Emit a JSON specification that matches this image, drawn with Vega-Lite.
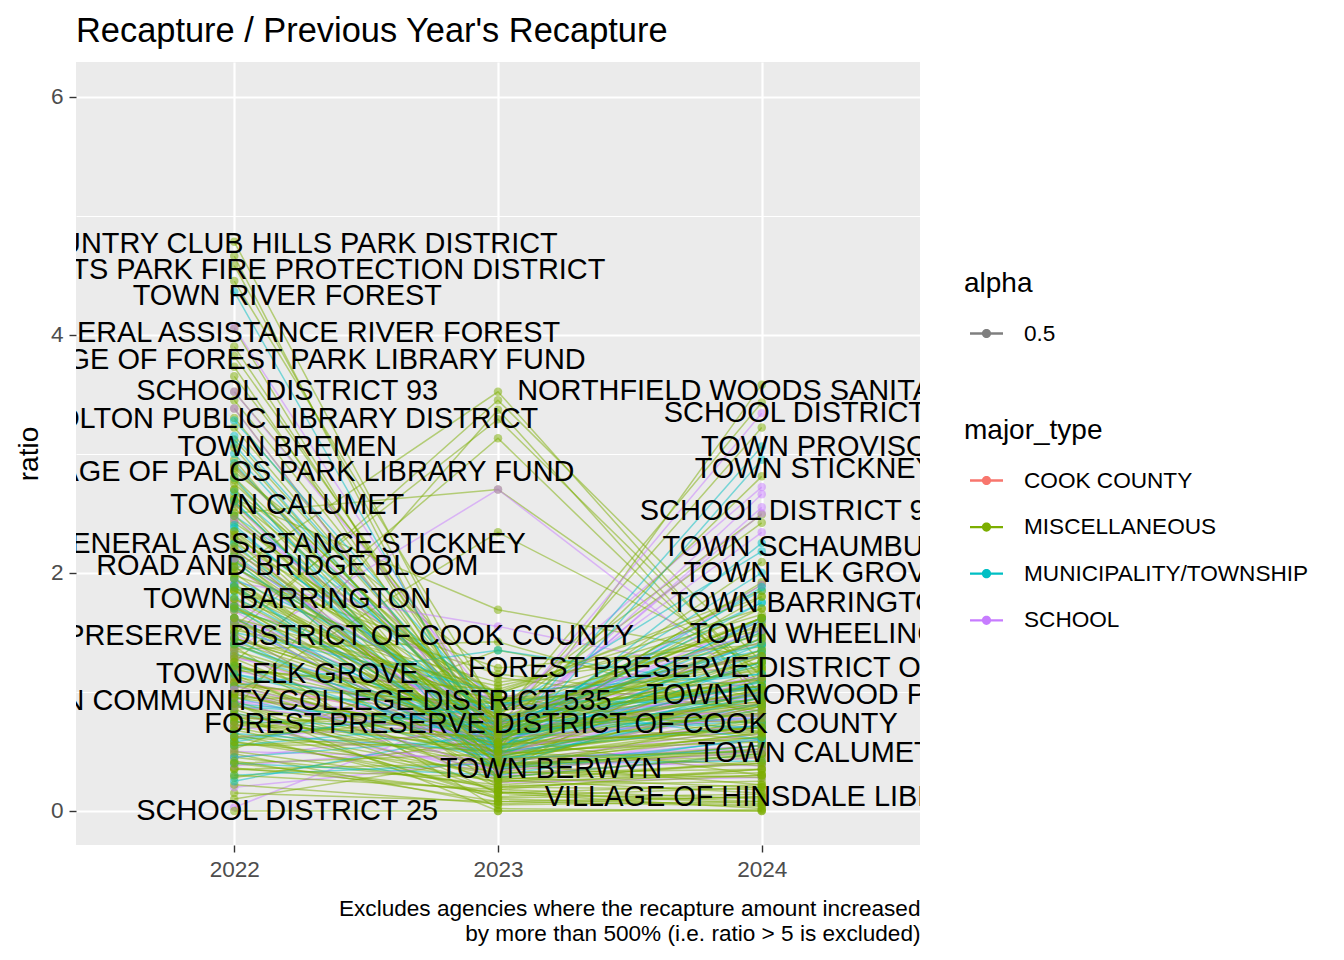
{
  "$schema": "https://vega.github.io/schema/vega-lite/v6.json",
  "autosize": {"type": "none"},
  "width": 844,
  "height": 783,
  "padding": {"left": 76, "top": 62, "right": 424, "bottom": 115},
  "background": "white",
  "title": {
    "text": "Recapture / Previous Year's Recapture",
    "anchor": "start",
    "frame": "group",
    "font": "Liberation Sans",
    "fontSize": 34.4,
    "fontWeight": "normal",
    "color": "#000000",
    "offset": 13
  },
  "datasets": {
    "agencies": [
      {"agency": "ACORN PUBLIC LIBRARY DISTRICT", "major_type": "MISCELLANEOUS", "2022": 0.65, "2023": 0.11, "2024": 0.14},
      {"agency": "ALSIP PARK DISTRICT", "major_type": "MISCELLANEOUS", "2022": 0.36, "2023": 0.16, "2024": 0.06},
      {"agency": "ARLINGTON HEIGHTS PARK DISTRICT", "major_type": "MISCELLANEOUS", "2022": 1.12, "2023": 0.85, "2024": 1.05},
      {"agency": "BARRINGTON AREA LIBRARY DISTRICT", "major_type": "MISCELLANEOUS", "2022": 1.9, "2023": 0.78, "2024": 1.32},
      {"agency": "BARTLETT PARK DISTRICT", "major_type": "MISCELLANEOUS", "2022": 2.45, "2023": 0.62, "2024": 0.9},
      {"agency": "BEDFORD PARK LIBRARY", "major_type": "MISCELLANEOUS", "2022": 3.52, "2023": 0.9, "2024": 1.18},
      {"agency": "BELLWOOD PARK DISTRICT", "major_type": "MISCELLANEOUS", "2022": 0.68, "2023": 0.95, "2024": 1.3},
      {"agency": "BERWYN PARK DISTRICT", "major_type": "MISCELLANEOUS", "2022": 1.85, "2023": 0.44, "2024": 0.72},
      {"agency": "BLOOM TOWNSHIP SANITARY DISTRICT", "major_type": "MISCELLANEOUS", "2022": 2.12, "2023": 0.6, "2024": 1.25},
      {"agency": "BLUE ISLAND PARK DISTRICT", "major_type": "MISCELLANEOUS", "2022": 3.9, "2023": 0.58, "2024": 0.66},
      {"agency": "BRIDGEVIEW PARK DISTRICT", "major_type": "MISCELLANEOUS", "2022": 1.36, "2023": 1.42, "2024": 0.8},
      {"agency": "BROOKFIELD LIBRARY", "major_type": "MISCELLANEOUS", "2022": 0.92, "2023": 0.31, "2024": 0.45},
      {"agency": "BURBANK PARK DISTRICT", "major_type": "MISCELLANEOUS", "2022": 2.02, "2023": 3.52, "2024": 1.05},
      {"agency": "CALUMET CITY PARK DISTRICT", "major_type": "MISCELLANEOUS", "2022": 1.58, "2023": 0.72, "2024": 1.62},
      {"agency": "CENTRAL STICKNEY FIRE PROTECTION DISTRICT", "major_type": "MISCELLANEOUS", "2022": 1.15, "2023": 0.15, "2024": 0.02},
      {"agency": "CHICAGO RIDGE PARK DISTRICT", "major_type": "MISCELLANEOUS", "2022": 0.45, "2023": 0.22, "2024": 0.35},
      {"agency": "CICERO PUBLIC LIBRARY", "major_type": "MISCELLANEOUS", "2022": 2.7, "2023": 0.9, "2024": 0.74},
      {"agency": "CITY OF BLUE ISLAND", "major_type": "MUNICIPALITY/TOWNSHIP", "2022": 0.95, "2023": 0.48, "2024": 0.85},
      {"agency": "CITY OF DES PLAINES", "major_type": "MUNICIPALITY/TOWNSHIP", "2022": 1.32, "2023": 0.65, "2024": 1.85},
      {"agency": "CITY OF EVANSTON", "major_type": "MUNICIPALITY/TOWNSHIP", "2022": 0.75, "2023": 0.7, "2024": 1.22},
      {"agency": "CITY OF HARVEY", "major_type": "MUNICIPALITY/TOWNSHIP", "2022": 2.15, "2023": 0.6, "2024": 1.25},
      {"agency": "CITY OF PARK RIDGE", "major_type": "MUNICIPALITY/TOWNSHIP", "2022": 2.48, "2023": 0.95, "2024": 0.88},
      {"agency": "COOK COUNTY", "major_type": "COOK COUNTY", "2022": 1.08, "2023": 0.66, "2024": 0.92},
      {"agency": "COUNTRY CLUB HILLS PARK DISTRICT", "major_type": "MISCELLANEOUS", "2022": 4.78, "2023": 0.62, "2024": 0.95},
      {"agency": "DES PLAINES PARK DISTRICT", "major_type": "MISCELLANEOUS", "2022": 1.05, "2023": 0.55, "2024": 1.45},
      {"agency": "DOLTON PUBLIC LIBRARY DISTRICT", "major_type": "MISCELLANEOUS", "2022": 3.3, "2023": 0.66, "2024": 0.9},
      {"agency": "ELK GROVE PARK DISTRICT", "major_type": "MISCELLANEOUS", "2022": 3.73, "2023": 0.47, "2024": 1.15},
      {"agency": "ELK GROVE RURAL FIRE PROTECTION DISTRICT", "major_type": "MISCELLANEOUS", "2022": 4.66, "2023": 0.35, "2024": 0.55},
      {"agency": "EVERGREEN PARK LIBRARY FUND", "major_type": "MISCELLANEOUS", "2022": 0.78, "2023": 0.12, "2024": 0.2},
      {"agency": "FOREST PRESERVE DISTRICT OF COOK COUNTY", "major_type": "MISCELLANEOUS", "2022": 1.45, "2023": 0.73, "2024": 1.2},
      {"agency": "FOREST VIEW FIRE PROTECTION DISTRICT", "major_type": "MISCELLANEOUS", "2022": 0.15, "2023": 0.08, "2024": 0.04},
      {"agency": "FRANKLIN PARK PARK DISTRICT", "major_type": "MISCELLANEOUS", "2022": 2.25, "2023": 0.98, "2024": 1.85},
      {"agency": "GARDEN HOMES SANITARY DISTRICT", "major_type": "MISCELLANEOUS", "2022": 1.38, "2023": 0.02, "2024": 0.0},
      {"agency": "GENERAL ASSISTANCE BLOOM", "major_type": "MISCELLANEOUS", "2022": 1.45, "2023": 0.86, "2024": 2.49},
      {"agency": "GENERAL ASSISTANCE CICERO", "major_type": "MISCELLANEOUS", "2022": 2.5, "2023": 2.7, "2024": 1.15},
      {"agency": "GENERAL ASSISTANCE PROVISO", "major_type": "MISCELLANEOUS", "2022": 0.75, "2023": 0.53, "2024": 0.72},
      {"agency": "GENERAL ASSISTANCE RIVER FOREST", "major_type": "MISCELLANEOUS", "2022": 4.05, "2023": 0.41, "2024": 0.88},
      {"agency": "GENERAL ASSISTANCE STICKNEY", "major_type": "MISCELLANEOUS", "2022": 2.28, "2023": 0.38, "2024": 1.3},
      {"agency": "GENERAL ASSISTANCE THORNTON", "major_type": "MISCELLANEOUS", "2022": 3.12, "2023": 0.67, "2024": 1.0},
      {"agency": "GLENCOE PARK DISTRICT", "major_type": "MISCELLANEOUS", "2022": 0.78, "2023": 0.7, "2024": 3.22},
      {"agency": "GLENVIEW PARK DISTRICT", "major_type": "MISCELLANEOUS", "2022": 1.48, "2023": 3.45, "2024": 1.25},
      {"agency": "GRANDE PRAIRIE PUBLIC LIBRARY DISTRICT", "major_type": "MISCELLANEOUS", "2022": 3.38, "2023": 0.5, "2024": 0.58},
      {"agency": "HANOVER PARK PARK DISTRICT", "major_type": "MISCELLANEOUS", "2022": 1.62, "2023": 0.34, "2024": 0.78},
      {"agency": "HARWOOD HEIGHTS LIBRARY", "major_type": "MISCELLANEOUS", "2022": 0.55, "2023": 0.65, "2024": 0.58},
      {"agency": "HAZEL CREST PARK DISTRICT", "major_type": "MISCELLANEOUS", "2022": 2.95, "2023": 0.36, "2024": 1.02},
      {"agency": "HIGH SCHOOL DISTRICT 200", "major_type": "SCHOOL", "2022": 1.28, "2023": 0.95, "2024": 1.3},
      {"agency": "HIGH SCHOOL DISTRICT 207", "major_type": "SCHOOL", "2022": 2.05, "2023": 0.58, "2024": 0.8},
      {"agency": "HIGH SCHOOL DISTRICT 211", "major_type": "SCHOOL", "2022": 0.98, "2023": 0.68, "2024": 1.6},
      {"agency": "HIGH SCHOOL DISTRICT 218", "major_type": "SCHOOL", "2022": 1.68, "2023": 0.4, "2024": 0.7},
      {"agency": "HIGH SCHOOL DISTRICT 227", "major_type": "SCHOOL", "2022": 0.45, "2023": 0.7, "2024": 0.85},
      {"agency": "HIGH SCHOOL DISTRICT 233", "major_type": "SCHOOL", "2022": 2.32, "2023": 0.24, "2024": 0.28},
      {"agency": "HOFFMAN ESTATES PARK DISTRICT", "major_type": "MISCELLANEOUS", "2022": 1.22, "2023": 0.81, "2024": 2.42},
      {"agency": "HOMEWOOD-FLOSSMOOR PARK DISTRICT", "major_type": "MISCELLANEOUS", "2022": 3.65, "2023": 0.74, "2024": 0.6},
      {"agency": "INDIAN PRAIRIE LIBRARY DISTRICT", "major_type": "MISCELLANEOUS", "2022": 1.02, "2023": 0.6, "2024": 1.9},
      {"agency": "LA GRANGE PARK DISTRICT", "major_type": "MISCELLANEOUS", "2022": 0.35, "2023": 0.4, "2024": 0.22},
      {"agency": "LEMONT FIRE PROTECTION DISTRICT", "major_type": "MISCELLANEOUS", "2022": 1.98, "2023": 1.2, "2024": 1.4},
      {"agency": "LEMONT PARK DISTRICT", "major_type": "MISCELLANEOUS", "2022": 1.68, "2023": 1.08, "2024": 1.38},
      {"agency": "LINCOLNWOOD LIBRARY", "major_type": "MISCELLANEOUS", "2022": 2.55, "2023": 0.26, "2024": 0.15},
      {"agency": "LYONS PUBLIC LIBRARY", "major_type": "MISCELLANEOUS", "2022": 0.98, "2023": 2.34, "2024": 1.2},
      {"agency": "MATTESON PUBLIC LIBRARY", "major_type": "MISCELLANEOUS", "2022": 1.95, "2023": 0.52, "2024": 0.95},
      {"agency": "MAYWOOD PARK DISTRICT", "major_type": "MISCELLANEOUS", "2022": 3.45, "2023": 0.69, "2024": 1.5},
      {"agency": "MELROSE PARK PUBLIC LIBRARY", "major_type": "MISCELLANEOUS", "2022": 1.85, "2023": 1.15, "2024": 0.9},
      {"agency": "METROPOLITAN WATER RECLAMATION DISTRICT", "major_type": "MISCELLANEOUS", "2022": 1.2, "2023": 0.95, "2024": 1.02},
      {"agency": "MIDLOTHIAN PARK DISTRICT", "major_type": "MISCELLANEOUS", "2022": 0.62, "2023": 0.18, "2024": 0.1},
      {"agency": "MORAINE VALLEY COMMUNITY COLLEGE DISTRICT 524", "major_type": "SCHOOL", "2022": 1.1, "2023": 0.64, "2024": 2.5},
      {"agency": "MORTON GROVE PARK DISTRICT", "major_type": "MISCELLANEOUS", "2022": 1.32, "2023": 0.58, "2024": 2.09},
      {"agency": "MOUNT PROSPECT PARK DISTRICT", "major_type": "MISCELLANEOUS", "2022": 2.85, "2023": 1.12, "2024": 0.84},
      {"agency": "NILES PARK DISTRICT", "major_type": "MISCELLANEOUS", "2022": 0.85, "2023": 3.37, "2024": 0.92},
      {"agency": "NORRIDGE PARK DISTRICT", "major_type": "MISCELLANEOUS", "2022": 1.75, "2023": 0.33, "2024": 0.52},
      {"agency": "NORTH MAINE FIRE PROTECTION DISTRICT", "major_type": "MISCELLANEOUS", "2022": 2.42, "2023": 0.93, "2024": 1.1},
      {"agency": "NORTH SHORE MOSQUITO ABATEMENT DISTRICT", "major_type": "MISCELLANEOUS", "2022": 2.18, "2023": 0.8, "2024": 1.05},
      {"agency": "NORTH SUBURBAN LIBRARY DISTRICT", "major_type": "MISCELLANEOUS", "2022": 2.65, "2023": 0.27, "2024": 0.32},
      {"agency": "NORTHBROOK PARK DISTRICT", "major_type": "MISCELLANEOUS", "2022": 2.35, "2023": 0.77, "2024": 3.43},
      {"agency": "NORTHFIELD WOODS SANITARY DISTRICT", "major_type": "MISCELLANEOUS", "2022": 1.2, "2023": 0.5, "2024": 3.58},
      {"agency": "NORTHWEST MOSQUITO ABATEMENT DISTRICT", "major_type": "MISCELLANEOUS", "2022": 0.88, "2023": 0.57, "2024": 1.92},
      {"agency": "OAK FOREST PARK DISTRICT", "major_type": "MISCELLANEOUS", "2022": 2.75, "2023": 0.7, "2024": 0.82},
      {"agency": "OAK LAWN PARK DISTRICT", "major_type": "MISCELLANEOUS", "2022": 1.02, "2023": 0.46, "2024": 0.75},
      {"agency": "OAKTON COMMUNITY COLLEGE DISTRICT 535", "major_type": "SCHOOL", "2022": 0.92, "2023": 0.8, "2024": 0.95},
      {"agency": "ORLAND FIRE PROTECTION DISTRICT", "major_type": "MISCELLANEOUS", "2022": 3.22, "2023": 0.63, "2024": 1.35},
      {"agency": "PALATINE PARK DISTRICT", "major_type": "MISCELLANEOUS", "2022": 0.72, "2023": 0.88, "2024": 1.02},
      {"agency": "PALOS FIRE PROTECTION DISTRICT", "major_type": "MISCELLANEOUS", "2022": 0.4, "2023": 0.48, "2024": 1.0},
      {"agency": "PARK RIDGE PARK DISTRICT", "major_type": "MISCELLANEOUS", "2022": 1.55, "2023": 3.29, "2024": 1.12},
      {"agency": "PROSPECT HEIGHTS PARK DISTRICT", "major_type": "MISCELLANEOUS", "2022": 2.15, "2023": 0.29, "2024": 0.4},
      {"agency": "RIVER GROVE PARK DISTRICT", "major_type": "MISCELLANEOUS", "2022": 0.7, "2023": 0.3, "2024": 1.55},
      {"agency": "RIVER TRAILS PARK DISTRICT", "major_type": "MISCELLANEOUS", "2022": 0.48, "2023": 0.05, "2024": 0.08},
      {"agency": "ROAD AND BRIDGE BLOOM", "major_type": "MISCELLANEOUS", "2022": 2.1, "2023": 0.5, "2024": 0.7},
      {"agency": "ROAD AND BRIDGE PALATINE", "major_type": "MISCELLANEOUS", "2022": 2.78, "2023": 0.43, "2024": 0.88},
      {"agency": "ROAD AND BRIDGE RICH", "major_type": "MISCELLANEOUS", "2022": 0.52, "2023": 1.35, "2024": 0.95},
      {"agency": "ROAD AND BRIDGE THORNTON", "major_type": "MISCELLANEOUS", "2022": 1.08, "2023": 0.74, "2024": 1.62},
      {"agency": "ROAD AND BRIDGE WORTH", "major_type": "MISCELLANEOUS", "2022": 1.72, "2023": 0.21, "2024": 0.25},
      {"agency": "ROBERTS PARK FIRE PROTECTION DISTRICT", "major_type": "MISCELLANEOUS", "2022": 4.58, "2023": 0.55, "2024": 1.1},
      {"agency": "ROLLING MEADOWS PARK DISTRICT", "major_type": "MISCELLANEOUS", "2022": 1.42, "2023": 0.71, "2024": 1.7},
      {"agency": "SCHAUMBURG PARK DISTRICT", "major_type": "MISCELLANEOUS", "2022": 2.62, "2023": 1.69, "2024": 1.28},
      {"agency": "SCHOOL DISTRICT 15", "major_type": "SCHOOL", "2022": 1.18, "2023": 0.72, "2024": 1.42},
      {"agency": "SCHOOL DISTRICT 21", "major_type": "SCHOOL", "2022": 2.2, "2023": 0.5, "2024": 0.9},
      {"agency": "SCHOOL DISTRICT 25", "major_type": "SCHOOL", "2022": 0.03, "2023": 0.9, "2024": 0.8},
      {"agency": "SCHOOL DISTRICT 34", "major_type": "SCHOOL", "2022": 1.6, "2023": 0.7, "2024": 3.34},
      {"agency": "SCHOOL DISTRICT 54", "major_type": "SCHOOL", "2022": 0.72, "2023": 0.35, "2024": 0.65},
      {"agency": "SCHOOL DISTRICT 57", "major_type": "SCHOOL", "2022": 1.62, "2023": 0.82, "2024": 2.72},
      {"agency": "SCHOOL DISTRICT 59", "major_type": "SCHOOL", "2022": 4.06, "2023": 0.66, "2024": 1.05},
      {"agency": "SCHOOL DISTRICT 62", "major_type": "SCHOOL", "2022": 0.5, "2023": 0.44, "2024": 0.52},
      {"agency": "SCHOOL DISTRICT 63", "major_type": "SCHOOL", "2022": 1.92, "2023": 1.55, "2024": 1.1},
      {"agency": "SCHOOL DISTRICT 64", "major_type": "SCHOOL", "2022": 0.92, "2023": 0.6, "2024": 2.66},
      {"agency": "SCHOOL DISTRICT 65", "major_type": "SCHOOL", "2022": 2.58, "2023": 0.41, "2024": 0.38},
      {"agency": "SCHOOL DISTRICT 67", "major_type": "SCHOOL", "2022": 1.35, "2023": 2.7, "2024": 1.0},
      {"agency": "SCHOOL DISTRICT 70", "major_type": "SCHOOL", "2022": 0.38, "2023": 0.55, "2024": 0.72},
      {"agency": "SCHOOL DISTRICT 87", "major_type": "SCHOOL", "2022": 1.75, "2023": 0.72, "2024": 2.34},
      {"agency": "SCHOOL DISTRICT 89", "major_type": "SCHOOL", "2022": 3.38, "2023": 0.48, "2024": 0.82},
      {"agency": "SCHOOL DISTRICT 92 1/2", "major_type": "SCHOOL", "2022": 1.3, "2023": 0.6, "2024": 2.55},
      {"agency": "SCHOOL DISTRICT 93", "major_type": "SCHOOL", "2022": 3.52, "2023": 0.85, "2024": 1.12},
      {"agency": "SCHOOL DISTRICT 97", "major_type": "SCHOOL", "2022": 0.82, "2023": 0.3, "2024": 0.45},
      {"agency": "SCHOOL DISTRICT 99", "major_type": "SCHOOL", "2022": 2.45, "2023": 0.88, "2024": 1.3},
      {"agency": "SCHOOL DISTRICT 103", "major_type": "SCHOOL", "2022": 1.05, "2023": 0.52, "2024": 1.9},
      {"agency": "SCHOOL DISTRICT 130", "major_type": "SCHOOL", "2022": 0.62, "2023": 0.74, "2024": 0.98},
      {"agency": "SCHOOL DISTRICT 146", "major_type": "SCHOOL", "2022": 1.48, "2023": 0.38, "2024": 0.6},
      {"agency": "SCHOOL DISTRICT 152", "major_type": "SCHOOL", "2022": 2.9, "2023": 0.62, "2024": 1.0},
      {"agency": "SCHOOL DISTRICT 159", "major_type": "SCHOOL", "2022": 0.2, "2023": 0.42, "2024": 0.55},
      {"agency": "SKOKIE PARK DISTRICT", "major_type": "MISCELLANEOUS", "2022": 0.95, "2023": 0.92, "2024": 1.55},
      {"agency": "SOUTH COOK MOSQUITO ABATEMENT DISTRICT", "major_type": "MISCELLANEOUS", "2022": 1.78, "2023": 0.96, "2024": 0.66},
      {"agency": "SOUTH HOLLAND PARK DISTRICT", "major_type": "MISCELLANEOUS", "2022": 1.88, "2023": 0.41, "2024": 0.62},
      {"agency": "SOUTH STICKNEY SANITARY DISTRICT", "major_type": "MISCELLANEOUS", "2022": 0.1, "2023": 0.45, "2024": 0.68},
      {"agency": "STEGER-SOUTH CHICAGO HEIGHTS LIBRARY", "major_type": "MISCELLANEOUS", "2022": 0.9, "2023": 0.0, "2024": 0.0},
      {"agency": "STREAMWOOD PARK DISTRICT", "major_type": "MISCELLANEOUS", "2022": 4.45, "2023": 0.84, "2024": 1.08},
      {"agency": "SUMMIT PARK DISTRICT", "major_type": "MISCELLANEOUS", "2022": 0.28, "2023": 0.61, "2024": 0.3},
      {"agency": "THOMAS FORD MEMORIAL LIBRARY", "major_type": "MISCELLANEOUS", "2022": 0.22, "2023": 0.06, "2024": 0.12},
      {"agency": "TINLEY PARK PARK DISTRICT", "major_type": "MISCELLANEOUS", "2022": 1.25, "2023": 3.13, "2024": 0.98},
      {"agency": "TOWN BARRINGTON", "major_type": "MUNICIPALITY/TOWNSHIP", "2022": 1.8, "2023": 0.6, "2024": 1.75},
      {"agency": "TOWN BERWYN", "major_type": "MUNICIPALITY/TOWNSHIP", "2022": 1.9, "2023": 0.35, "2024": 1.1},
      {"agency": "TOWN BREMEN", "major_type": "MUNICIPALITY/TOWNSHIP", "2022": 3.08, "2023": 0.52, "2024": 1.4},
      {"agency": "TOWN CALUMET", "major_type": "MUNICIPALITY/TOWNSHIP", "2022": 2.6, "2023": 0.45, "2024": 0.5},
      {"agency": "TOWN CICERO", "major_type": "MUNICIPALITY/TOWNSHIP", "2022": 1.22, "2023": 0.55, "2024": 1.0},
      {"agency": "TOWN ELK GROVE", "major_type": "MUNICIPALITY/TOWNSHIP", "2022": 1.15, "2023": 0.62, "2024": 2.0},
      {"agency": "TOWN EVANSTON", "major_type": "MUNICIPALITY/TOWNSHIP", "2022": 2.38, "2023": 0.62, "2024": 1.12},
      {"agency": "TOWN HANOVER", "major_type": "MUNICIPALITY/TOWNSHIP", "2022": 0.55, "2023": 0.75, "2024": 1.05},
      {"agency": "TOWN LEMONT", "major_type": "MUNICIPALITY/TOWNSHIP", "2022": 1.58, "2023": 0.45, "2024": 1.45},
      {"agency": "TOWN LEYDEN", "major_type": "MUNICIPALITY/TOWNSHIP", "2022": 3.15, "2023": 0.68, "2024": 0.78},
      {"agency": "TOWN LYONS", "major_type": "MUNICIPALITY/TOWNSHIP", "2022": 0.3, "2023": 0.4, "2024": 0.42},
      {"agency": "TOWN MAINE", "major_type": "MUNICIPALITY/TOWNSHIP", "2022": 2.05, "2023": 0.82, "2024": 2.18},
      {"agency": "TOWN NEW TRIER", "major_type": "MUNICIPALITY/TOWNSHIP", "2022": 1.45, "2023": 0.36, "2024": 0.6},
      {"agency": "TOWN NILES", "major_type": "MUNICIPALITY/TOWNSHIP", "2022": 2.92, "2023": 0.51, "2024": 1.32},
      {"agency": "TOWN NORTHFIELD", "major_type": "MUNICIPALITY/TOWNSHIP", "2022": 0.88, "2023": 0.73, "2024": 1.75},
      {"agency": "TOWN NORWOOD PARK", "major_type": "MUNICIPALITY/TOWNSHIP", "2022": 0.9, "2023": 0.7, "2024": 0.97},
      {"agency": "TOWN OAK PARK", "major_type": "MUNICIPALITY/TOWNSHIP", "2022": 1.95, "2023": 0.9, "2024": 1.15},
      {"agency": "TOWN ORLAND", "major_type": "MUNICIPALITY/TOWNSHIP", "2022": 0.65, "2023": 0.5, "2024": 0.72},
      {"agency": "TOWN PALATINE", "major_type": "MUNICIPALITY/TOWNSHIP", "2022": 2.6, "2023": 0.42, "2024": 0.9},
      {"agency": "TOWN PALOS", "major_type": "MUNICIPALITY/TOWNSHIP", "2022": 1.05, "2023": 1.35, "2024": 1.02},
      {"agency": "TOWN PROVISO", "major_type": "MUNICIPALITY/TOWNSHIP", "2022": 2.4, "2023": 0.55, "2024": 3.06},
      {"agency": "TOWN RICH", "major_type": "MUNICIPALITY/TOWNSHIP", "2022": 3.0, "2023": 0.58, "2024": 1.6},
      {"agency": "TOWN RIVER FOREST", "major_type": "MUNICIPALITY/TOWNSHIP", "2022": 4.36, "2023": 0.48, "2024": 1.25},
      {"agency": "TOWN RIVERSIDE", "major_type": "MUNICIPALITY/TOWNSHIP", "2022": 0.45, "2023": 0.62, "2024": 0.95},
      {"agency": "TOWN SCHAUMBURG", "major_type": "MUNICIPALITY/TOWNSHIP", "2022": 1.7, "2023": 0.5, "2024": 2.25},
      {"agency": "TOWN STICKNEY", "major_type": "MUNICIPALITY/TOWNSHIP", "2022": 2.1, "2023": 0.42, "2024": 2.95},
      {"agency": "TOWN THORNTON", "major_type": "MUNICIPALITY/TOWNSHIP", "2022": 1.72, "2023": 0.76, "2024": 1.4},
      {"agency": "TOWN WHEELING", "major_type": "MUNICIPALITY/TOWNSHIP", "2022": 1.4, "2023": 0.65, "2024": 1.5},
      {"agency": "TOWN WORTH", "major_type": "MUNICIPALITY/TOWNSHIP", "2022": 2.25, "2023": 0.35, "2024": 0.55},
      {"agency": "VILLAGE OF ALSIP LIBRARY FUND", "major_type": "MISCELLANEOUS", "2022": 0.0, "2023": 0.0, "2024": 0.01},
      {"agency": "VILLAGE OF ARLINGTON HEIGHTS", "major_type": "MUNICIPALITY/TOWNSHIP", "2022": 1.62, "2023": 0.59, "2024": 1.08},
      {"agency": "VILLAGE OF BELLWOOD", "major_type": "MUNICIPALITY/TOWNSHIP", "2022": 2.8, "2023": 0.28, "2024": 0.48},
      {"agency": "VILLAGE OF BROADVIEW", "major_type": "MUNICIPALITY/TOWNSHIP", "2022": 0.6, "2023": 0.88, "2024": 1.35},
      {"agency": "VILLAGE OF BURNHAM", "major_type": "MUNICIPALITY/TOWNSHIP", "2022": 1.88, "2023": 0.53, "2024": 1.62},
      {"agency": "VILLAGE OF DOLTON", "major_type": "MUNICIPALITY/TOWNSHIP", "2022": 0.4, "2023": 0.3, "2024": 0.62},
      {"agency": "VILLAGE OF FOREST PARK LIBRARY FUND", "major_type": "MISCELLANEOUS", "2022": 3.82, "2023": 0.7, "2024": 1.05},
      {"agency": "VILLAGE OF GLENWOOD", "major_type": "MUNICIPALITY/TOWNSHIP", "2022": 1.15, "2023": 0.77, "2024": 0.7},
      {"agency": "VILLAGE OF HINSDALE LIBRARY FUND", "major_type": "MISCELLANEOUS", "2022": 0.8, "2023": 0.1, "2024": 0.05},
      {"agency": "VILLAGE OF LANSING", "major_type": "MUNICIPALITY/TOWNSHIP", "2022": 0.82, "2023": 0.45, "2024": 0.95},
      {"agency": "VILLAGE OF MAYWOOD", "major_type": "MUNICIPALITY/TOWNSHIP", "2022": 1.5, "2023": 1.0, "2024": 1.15},
      {"agency": "VILLAGE OF NILES", "major_type": "MUNICIPALITY/TOWNSHIP", "2022": 2.68, "2023": 0.71, "2024": 1.52},
      {"agency": "VILLAGE OF OAK PARK LIBRARY FUND", "major_type": "MISCELLANEOUS", "2022": 1.28, "2023": 0.39, "2024": 0.46},
      {"agency": "VILLAGE OF PALOS PARK LIBRARY FUND", "major_type": "MISCELLANEOUS", "2022": 2.88, "2023": 0.75, "2024": 0.8},
      {"agency": "VILLAGE OF RIVERDALE", "major_type": "MUNICIPALITY/TOWNSHIP", "2022": 0.25, "2023": 0.68, "2024": 0.75},
      {"agency": "VILLAGE OF SKOKIE", "major_type": "MUNICIPALITY/TOWNSHIP", "2022": 1.4, "2023": 0.52, "2024": 1.88},
      {"agency": "VILLAGE OF SKOKIE LIBRARY FUND", "major_type": "MISCELLANEOUS", "2022": 2.3, "2023": 0.99, "2024": 1.65},
      {"agency": "VILLAGE OF STONE PARK", "major_type": "MUNICIPALITY/TOWNSHIP", "2022": 3.28, "2023": 0.8, "2024": 1.03},
      {"agency": "VILLAGE OF WESTCHESTER", "major_type": "MUNICIPALITY/TOWNSHIP", "2022": 0.58, "2023": 0.92, "2024": 0.6},
      {"agency": "WARREN-NEWPORT LIBRARY DISTRICT", "major_type": "MISCELLANEOUS", "2022": 1.52, "2023": 1.05, "2024": 1.52},
      {"agency": "WESTCHESTER PARK DISTRICT", "major_type": "MISCELLANEOUS", "2022": 2.05, "2023": 0.66, "2024": 2.81},
      {"agency": "WHEELING PARK DISTRICT", "major_type": "MISCELLANEOUS", "2022": 0.82, "2023": 0.37, "2024": 0.52},
      {"agency": "WILMETTE PARK DISTRICT", "major_type": "MISCELLANEOUS", "2022": 3.05, "2023": 0.55, "2024": 0.7},
      {"agency": "WINNETKA PARK DISTRICT", "major_type": "MISCELLANEOUS", "2022": 1.62, "2023": 1.0, "2024": 1.8},
      {"agency": "WORTH PARK DISTRICT", "major_type": "MISCELLANEOUS", "2022": 0.58, "2023": 0.25, "2024": 0.3},
      {"agency": "ALSIP-MERRIONETTE PARK LIBRARY", "major_type": "MISCELLANEOUS", "2022": 1.55, "2023": 0.48, "2024": 0.62},
      {"agency": "ARGO FIRE PROTECTION DISTRICT", "major_type": "MISCELLANEOUS", "2022": 0.85, "2023": 0.26, "2024": 0.4},
      {"agency": "BARRINGTON PARK DISTRICT", "major_type": "MISCELLANEOUS", "2022": 2.22, "2023": 0.7, "2024": 1.22},
      {"agency": "BLUE ISLAND PUBLIC LIBRARY", "major_type": "MISCELLANEOUS", "2022": 1.12, "2023": 0.38, "2024": 0.55},
      {"agency": "BRIDGEVIEW PUBLIC LIBRARY", "major_type": "MISCELLANEOUS", "2022": 2.58, "2023": 0.55, "2024": 0.95},
      {"agency": "CALUMET PARK PARK DISTRICT", "major_type": "MISCELLANEOUS", "2022": 0.62, "2023": 0.5, "2024": 0.85},
      {"agency": "CHICAGO HEIGHTS PARK DISTRICT", "major_type": "MISCELLANEOUS", "2022": 1.78, "2023": 0.62, "2024": 1.45},
      {"agency": "CRESTWOOD PUBLIC LIBRARY", "major_type": "MISCELLANEOUS", "2022": 0.5, "2023": 0.2, "2024": 0.18},
      {"agency": "DEERFIELD PARK DISTRICT", "major_type": "MISCELLANEOUS", "2022": 1.3, "2023": 0.82, "2024": 1.62},
      {"agency": "GOLF MAINE PARK DISTRICT", "major_type": "MISCELLANEOUS", "2022": 2.0, "2023": 0.44, "2024": 0.5},
      {"agency": "EVANSTON PUBLIC LIBRARY", "major_type": "MISCELLANEOUS", "2022": 0.95, "2023": 0.68, "2024": 1.12},
      {"agency": "SCHOOL DISTRICT 74", "major_type": "SCHOOL", "2022": 1.58, "2023": 0.46, "2024": 1.12},
      {"agency": "FOREST PARK PARK DISTRICT", "major_type": "MISCELLANEOUS", "2022": 2.62, "2023": 0.85, "2024": 1.3},
      {"agency": "GLENWOOD-LYNWOOD LIBRARY", "major_type": "MISCELLANEOUS", "2022": 0.4, "2023": 0.15, "2024": 0.22},
      {"agency": "HICKORY HILLS PARK DISTRICT", "major_type": "MISCELLANEOUS", "2022": 1.4, "2023": 0.6, "2024": 0.82},
      {"agency": "HILLSIDE PUBLIC LIBRARY", "major_type": "MISCELLANEOUS", "2022": 2.35, "2023": 0.32, "2024": 0.35},
      {"agency": "HOMETOWN PUBLIC LIBRARY", "major_type": "MISCELLANEOUS", "2022": 0.75, "2023": 0.42, "2024": 0.65},
      {"agency": "JUSTICE PARK DISTRICT", "major_type": "MISCELLANEOUS", "2022": 1.85, "2023": 0.78, "2024": 1.05},
      {"agency": "LA GRANGE PARK LIBRARY", "major_type": "MISCELLANEOUS", "2022": 1.05, "2023": 0.9, "2024": 1.48},
      {"agency": "LANSING PARK DISTRICT", "major_type": "MISCELLANEOUS", "2022": 2.8, "2023": 0.65, "2024": 0.92},
      {"agency": "SCHOOL DISTRICT 81", "major_type": "SCHOOL", "2022": 0.88, "2023": 0.62, "2024": 0.78},
      {"agency": "LEMONT PUBLIC LIBRARY", "major_type": "MISCELLANEOUS", "2022": 0.58, "2023": 0.33, "2024": 0.28},
      {"agency": "LYONS TOWNSHIP MOSQUITO ABATEMENT DISTRICT", "major_type": "MISCELLANEOUS", "2022": 1.62, "2023": 0.52, "2024": 1.18},
      {"agency": "MARKHAM PARK DISTRICT", "major_type": "MISCELLANEOUS", "2022": 0.3, "2023": 0.18, "2024": 0.35},
      {"agency": "MOUNT PROSPECT PUBLIC LIBRARY", "major_type": "MISCELLANEOUS", "2022": 1.22, "2023": 0.7, "2024": 1.35},
      {"agency": "NILES PUBLIC LIBRARY DISTRICT", "major_type": "MISCELLANEOUS", "2022": 2.1, "2023": 0.94, "2024": 0.62},
      {"agency": "NORTH PALOS FIRE PROTECTION DISTRICT", "major_type": "MISCELLANEOUS", "2022": 0.88, "2023": 0.46, "2024": 0.9},
      {"agency": "NORTHLAKE PUBLIC LIBRARY", "major_type": "MISCELLANEOUS", "2022": 1.5, "2023": 0.28, "2024": 0.2},
      {"agency": "OAK LAWN PUBLIC LIBRARY", "major_type": "MISCELLANEOUS", "2022": 2.48, "2023": 0.58, "2024": 1.58},
      {"agency": "ORLAND PARK PUBLIC LIBRARY", "major_type": "MISCELLANEOUS", "2022": 0.72, "2023": 0.62, "2024": 1.02},
      {"agency": "SCHOOL DISTRICT 100", "major_type": "SCHOOL", "2022": 2.12, "2023": 0.75, "2024": 1.52},
      {"agency": "PALATINE PUBLIC LIBRARY", "major_type": "MISCELLANEOUS", "2022": 1.95, "2023": 0.4, "2024": 0.48},
      {"agency": "PALOS HEIGHTS PUBLIC LIBRARY", "major_type": "MISCELLANEOUS", "2022": 1.18, "2023": 1.02, "2024": 1.7},
      {"agency": "PALOS PARK PARK DISTRICT", "major_type": "MISCELLANEOUS", "2022": 0.55, "2023": 0.56, "2024": 0.7},
      {"agency": "PARK FOREST PUBLIC LIBRARY", "major_type": "MISCELLANEOUS", "2022": 2.9, "2023": 0.72, "2024": 1.12},
      {"agency": "PROSPECT HEIGHTS PUBLIC LIBRARY", "major_type": "MISCELLANEOUS", "2022": 0.8, "2023": 0.5, "2024": 0.38},
      {"agency": "RIVERSIDE PUBLIC LIBRARY", "major_type": "MISCELLANEOUS", "2022": 1.7, "2023": 0.88, "2024": 1.25},
      {"agency": "SALT CREEK PARK DISTRICT", "major_type": "MISCELLANEOUS", "2022": 1.0, "2023": 0.35, "2024": 0.5},
      {"agency": "SAUK VILLAGE LIBRARY", "major_type": "MISCELLANEOUS", "2022": 0.42, "2023": 0.08, "2024": 0.12},
      {"agency": "SOUTH HOLLAND PUBLIC LIBRARY", "major_type": "MISCELLANEOUS", "2022": 1.35, "2023": 0.66, "2024": 0.98},
      {"agency": "STICKNEY-FOREST VIEW LIBRARY", "major_type": "MISCELLANEOUS", "2022": 2.2, "2023": 0.46, "2024": 0.78},
      {"agency": "HIGH SCHOOL DISTRICT 205", "major_type": "SCHOOL", "2022": 1.02, "2023": 0.34, "2024": 0.5},
      {"agency": "SUMMIT FIRE PROTECTION DISTRICT", "major_type": "MISCELLANEOUS", "2022": 0.68, "2023": 0.24, "2024": 0.42},
      {"agency": "TINLEY PARK PUBLIC LIBRARY", "major_type": "MISCELLANEOUS", "2022": 1.88, "2023": 0.76, "2024": 1.42},
      {"agency": "WESTCHESTER PUBLIC LIBRARY", "major_type": "MISCELLANEOUS", "2022": 0.98, "2023": 0.57, "2024": 1.8},
      {"agency": "INDIAN TRAILS PUBLIC LIBRARY", "major_type": "MISCELLANEOUS", "2022": 1.58, "2023": 0.92, "2024": 1.1},
      {"agency": "WILLOW SPRINGS LIBRARY", "major_type": "MISCELLANEOUS", "2022": 2.7, "2023": 0.38, "2024": 0.66},
      {"agency": "WINNETKA-NORTHFIELD LIBRARY", "major_type": "MISCELLANEOUS", "2022": 0.62, "2023": 0.8, "2024": 1.25},
      {"agency": "WORTH PUBLIC LIBRARY", "major_type": "MISCELLANEOUS", "2022": 1.25, "2023": 0.2, "2024": 0.3},
      {"agency": "NORTHBROOK PUBLIC LIBRARY", "major_type": "MISCELLANEOUS", "2022": 2.32, "2023": 0.64, "2024": 0.88},
      {"agency": "GLENVIEW PUBLIC LIBRARY", "major_type": "MISCELLANEOUS", "2022": 1.08, "2023": 0.5, "2024": 1.3},
      {"agency": "SCHAUMBURG TOWNSHIP DISTRICT LIBRARY", "major_type": "MISCELLANEOUS", "2022": 1.45, "2023": 0.74, "2024": 1.62},
      {"agency": "ROLLING MEADOWS LIBRARY", "major_type": "MISCELLANEOUS", "2022": 0.35, "2023": 0.28, "2024": 0.48},
      {"agency": "SKOKIE PUBLIC LIBRARY", "major_type": "MISCELLANEOUS", "2022": 2.05, "2023": 0.8, "2024": 0.74},
      {"agency": "HOMEWOOD PUBLIC LIBRARY", "major_type": "MISCELLANEOUS", "2022": 0.9, "2023": 0.16, "2024": 0.08},
      {"agency": "FLOSSMOOR PUBLIC LIBRARY", "major_type": "MISCELLANEOUS", "2022": 1.72, "2023": 0.58, "2024": 1.02}
    ],
    "labels": [
      {"label": "COUNTRY CLUB HILLS PARK DISTRICT", "year": 2022, "pos": 4.765},
      {"label": "ROBERTS PARK FIRE PROTECTION DISTRICT", "year": 2022, "pos": 4.546},
      {"label": "TOWN RIVER FOREST", "year": 2022, "pos": 4.328},
      {"label": "GENERAL ASSISTANCE RIVER FOREST", "year": 2022, "pos": 4.017},
      {"label": "VILLAGE OF FOREST PARK LIBRARY FUND", "year": 2022, "pos": 3.79},
      {"label": "SCHOOL DISTRICT 93", "year": 2022, "pos": 3.53},
      {"label": "DOLTON PUBLIC LIBRARY DISTRICT", "year": 2022, "pos": 3.29},
      {"label": "TOWN BREMEN", "year": 2022, "pos": 3.06},
      {"label": "VILLAGE OF PALOS PARK LIBRARY FUND", "year": 2022, "pos": 2.85},
      {"label": "TOWN CALUMET", "year": 2022, "pos": 2.57},
      {"label": "GENERAL ASSISTANCE STICKNEY", "year": 2022, "pos": 2.24},
      {"label": "ROAD AND BRIDGE BLOOM", "year": 2022, "pos": 2.06},
      {"label": "TOWN BARRINGTON", "year": 2022, "pos": 1.78},
      {"label": "FOREST PRESERVE DISTRICT OF COOK COUNTY", "year": 2022, "pos": 1.47},
      {"label": "TOWN ELK GROVE", "year": 2022, "pos": 1.15},
      {"label": "OAKTON COMMUNITY COLLEGE DISTRICT 535", "year": 2022, "pos": 0.92},
      {"label": "SCHOOL DISTRICT 25", "year": 2022, "pos": 0.0},
      {"label": "FOREST PRESERVE DISTRICT OF COOK COUNTY", "year": 2023, "pos": 0.73},
      {"label": "TOWN BERWYN", "year": 2023, "pos": 0.35},
      {"label": "NORTHFIELD WOODS SANITARY DISTRICT", "year": 2024, "pos": 3.53},
      {"label": "SCHOOL DISTRICT 34", "year": 2024, "pos": 3.34},
      {"label": "TOWN PROVISO", "year": 2024, "pos": 3.06},
      {"label": "TOWN STICKNEY", "year": 2024, "pos": 2.87},
      {"label": "SCHOOL DISTRICT 92 1/2", "year": 2024, "pos": 2.52},
      {"label": "TOWN SCHAUMBURG", "year": 2024, "pos": 2.22},
      {"label": "TOWN ELK GROVE", "year": 2024, "pos": 2.0},
      {"label": "TOWN BARRINGTON", "year": 2024, "pos": 1.75},
      {"label": "TOWN WHEELING", "year": 2024, "pos": 1.49},
      {"label": "FOREST PRESERVE DISTRICT OF COOK COUNTY", "year": 2024, "pos": 1.2},
      {"label": "TOWN NORWOOD PARK", "year": 2024, "pos": 0.97},
      {"label": "TOWN CALUMET", "year": 2024, "pos": 0.49},
      {"label": "VILLAGE OF HINSDALE LIBRARY FUND", "year": 2024, "pos": 0.12}
    ]
  },
  "layer": [
    {
      "data": {"name": "agencies"},
      "transform": [{"fold": ["2022", "2023", "2024"], "as": ["year", "ratio"]}],
      "mark": {"type": "line", "strokeWidth": 1.5},
      "encoding": {
        "x": {
          "field": "year",
          "type": "quantitative",
          "title": ["Excludes agencies where the recapture amount increased", "by more than 500% (i.e. ratio > 5 is excluded)"],
          "scale": {"domain": [2021.4, 2024.6], "nice": false, "zero": false},
          "axis": {
            "values": [2022, 2023, 2024],
            "format": "d",
            "domain": false,
            "labelFlush": false,
            "labelFontSize": 22.6,
            "labelColor": "#4D4D4D",
            "labelPadding": 6,
            "tickColor": "#333333",
            "tickSize": 7,
            "tickWidth": 1.4,
            "gridColor": "#FFFFFF",
            "gridWidth": 2.2,
            "titleAnchor": "end",
            "titleAlign": "right",
            "titleFontSize": 22.6,
            "titleFontWeight": "normal",
            "titleColor": "#000000",
            "titleLineHeight": 25,
            "titlePadding": 17
          }
        },
        "y": {
          "field": "ratio",
          "type": "quantitative",
          "title": "ratio",
          "scale": {"domain": [-0.286, 6.29], "nice": false, "zero": false},
          "axis": {
            "values": [0, 1, 2, 3, 4, 5, 6],
            "format": "d",
            "labelExpr": "datum.value % 2 == 0 ? datum.label : ''",
            "domain": false,
            "labelFontSize": 22.6,
            "labelColor": "#4D4D4D",
            "labelPadding": 6,
            "tickColor": "#333333",
            "tickSize": 7,
            "tickWidth": 1.4,
            "tickOpacity": {"condition": {"test": "datum.value % 2 == 1", "value": 0}, "value": 1},
            "gridColor": "#FFFFFF",
            "gridWidth": {"condition": {"test": "datum.value % 2 == 1", "value": 1.1}, "value": 2.2},
            "titleFontSize": 28,
            "titleFontWeight": "normal",
            "titleColor": "#000000",
            "titlePadding": 7
          }
        },
        "detail": {"field": "agency", "type": "nominal"},
        "color": {
          "field": "major_type",
          "type": "nominal",
          "scale": {
            "domain": ["COOK COUNTY", "MISCELLANEOUS", "MUNICIPALITY/TOWNSHIP", "SCHOOL"],
            "range": ["#F8766D", "#7CAE00", "#00BFC4", "#C77CFF"]
          },
          "legend": {
            "title": "major_type",
            "orient": "none",
            "legendX": 888,
            "legendY": 355,
            "encode": {
              "symbols": {
                "update": {
                  "fill": {"scale": "color", "field": "value"},
                  "stroke": {"scale": "color", "field": "value"},
                  "opacity": {"value": 1}
                }
              }
            }
          }
        },
        "opacity": {
          "datum": "0.5",
          "type": "ordinal",
          "scale": {"type": "point", "range": [0.5, 0.5]},
          "legend": {
            "title": "alpha",
            "orient": "none",
            "legendX": 888,
            "legendY": 208,
            "encode": {
              "symbols": {
                "update": {
                  "fill": {"value": "#000000"},
                  "stroke": {"value": "#000000"}
                }
              }
            }
          }
        }
      }
    },
    {
      "data": {"name": "agencies"},
      "transform": [{"fold": ["2022", "2023", "2024"], "as": ["year", "ratio"]}],
      "mark": {"type": "point", "filled": true, "size": 72, "opacity": 0.5},
      "encoding": {
        "x": {"field": "year", "type": "quantitative", "title": ["Excludes agencies where the recapture amount increased", "by more than 500% (i.e. ratio > 5 is excluded)"]},
        "y": {"field": "ratio", "type": "quantitative", "title": "ratio"},
        "color": {"field": "major_type", "type": "nominal"}
      }
    },
    {
      "data": {"name": "labels"},
      "mark": {
        "type": "text",
        "font": "Liberation Sans",
        "fontSize": 28.9,
        "color": "#000000",
        "dx": 53,
        "clip": true
      },
      "encoding": {
        "x": {"field": "year", "type": "quantitative", "title": ["Excludes agencies where the recapture amount increased", "by more than 500% (i.e. ratio > 5 is excluded)"]},
        "y": {"field": "pos", "type": "quantitative", "title": "ratio"},
        "text": {"field": "label", "type": "nominal"}
      }
    }
  ],
  "config": {
    "font": "Liberation Sans",
    "view": {"fill": "#EBEBEB", "stroke": null},
    "legend": {
      "titleFontSize": 28,
      "titleFontWeight": "normal",
      "titleColor": "#000000",
      "titlePadding": 19,
      "labelFontSize": 22.6,
      "labelColor": "#000000",
      "labelLimit": 400,
      "labelOffset": 21,
      "symbolType": "M-1,-0.07H1V0.07H-1Z M0.28,0A0.28,0.28 0 1,1 -0.28,0A0.28,0.28 0 1,1 0.28,0Z",
      "symbolSize": 1089,
      "symbolStrokeWidth": 0,
      "symbolOffset": 6,
      "rowPadding": 17.6,
      "padding": 0
    }
  }
}
